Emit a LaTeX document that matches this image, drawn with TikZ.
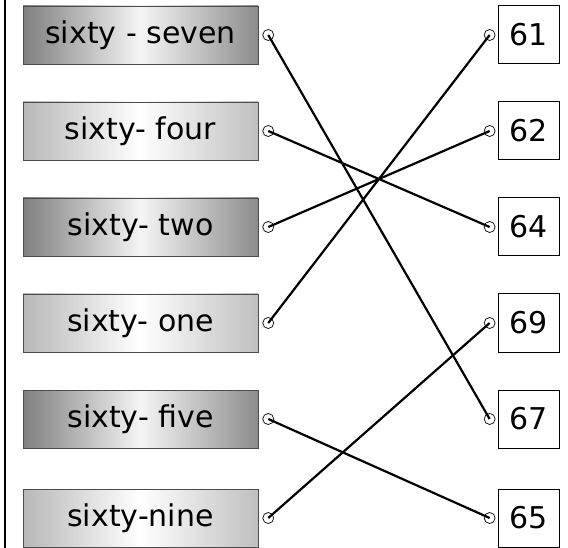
\documentclass[tikz,border=0pt]{standalone}
\usepackage{fontspec}
\setmainfont{DejaVu Sans}
\usetikzlibrary{positioning}

\begin{document}
\begin{tikzpicture}[x=1pt, y=-1pt,
    word/.style={draw=black!70, line width=0.8pt, minimum width=235pt, minimum height=58pt, inner sep=0pt,
      font=\fontsize{30}{36}\selectfont},
    darkword/.style={word, left color=black!50, right color=black!45, middle color=black!4},
    lightword/.style={word, left color=black!28, right color=black!25, middle color=white},
    number/.style={draw, line width=1pt, minimum width=61pt, minimum height=58pt, inner sep=0pt,
      font=\fontsize{30}{36}\selectfont},
    dot/.style={circle, draw, line width=0.7pt, inner sep=0pt, minimum size=11pt},
    link/.style={line width=2.2pt}]
    \useasboundingbox (0,0) rectangle (568,548);

    % Margin line
    \draw[line width=2pt] (5,0) -- (5,548);

    % Words
    \node[darkword]  (w1) at (140.5,35)  {sixty - seven};
    \node[lightword] (w2) at (140.5,131) {sixty- four};
    \node[darkword]  (w3) at (140.5,227) {sixty- two};
    \node[lightword] (w4) at (140.5,323) {sixty- one};
    \node[darkword]  (w5) at (140.5,419) {sixty- five};
    \node[lightword] (w6) at (140.5,518) {sixty-nine};

    % Numbers
    \node[number] (n1) at (528.5,35)  {61};
    \node[number] (n2) at (528.5,131) {62};
    \node[number] (n3) at (528.5,227) {64};
    \node[number] (n4) at (528.5,323) {69};
    \node[number] (n5) at (528.5,419) {67};
    \node[number] (n6) at (528.5,518) {65};

    % Dots
    \node[dot, right=4pt of w1] (a1) {};
    \node[dot, right=4pt of w2] (a2) {};
    \node[dot, right=4pt of w3] (a3) {};
    \node[dot, right=4pt of w4] (a4) {};
    \node[dot, right=4pt of w5] (a5) {};
    \node[dot, right=4pt of w6] (a6) {};
    \node[dot, left=2pt of n1] (b1) {};
    \node[dot, left=2pt of n2] (b2) {};
    \node[dot, left=2pt of n3] (b3) {};
    \node[dot, left=2pt of n4] (b4) {};
    \node[dot, left=2pt of n5] (b5) {};
    \node[dot, left=2pt of n6] (b6) {};

    % Matching lines
    \draw[link] (a1.center) -- (b5.center);
    \draw[link] (a2.center) -- (b3.center);
    \draw[link] (a3.center) -- (b2.center);
    \draw[link] (a4.center) -- (b1.center);
    \draw[link] (a5.center) -- (b6.center);
    \draw[link] (a6.center) -- (b4.center);
\end{tikzpicture}
\end{document}
